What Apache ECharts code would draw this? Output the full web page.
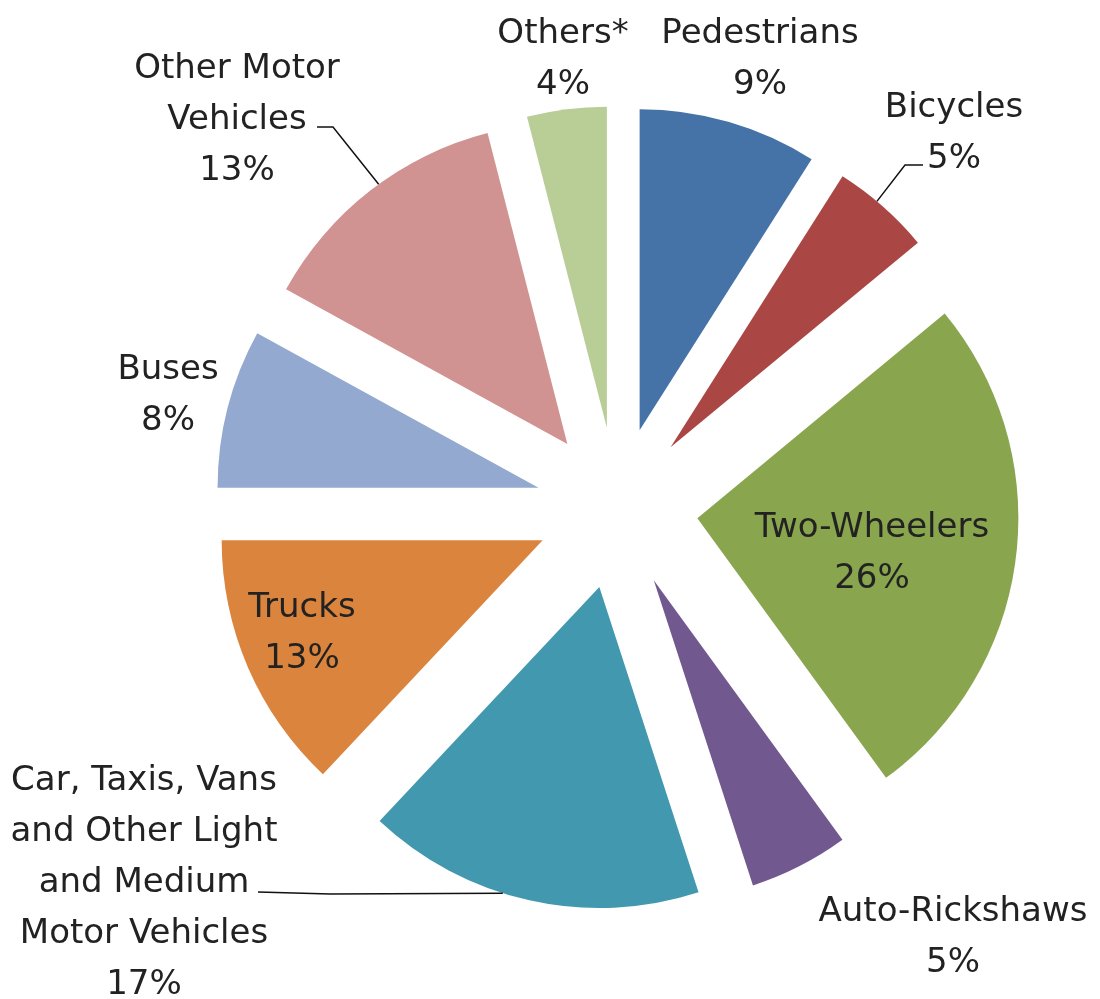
<!DOCTYPE html>
<html>
<head>
<meta charset="utf-8">
<script src="https://cdn.jsdelivr.net/npm/echarts@6/dist/echarts.min.js"></script>
<style>
  html, body { margin: 0; background: #fff; }
  #pie { width: 1100px; height: 999px; }
</style>
</head>
<body>
<div id="pie"></div>
<script>
// slices, clockwise from 12 o'clock
const categories = ['Pedestrians', 'Bicycles', 'Two-Wheelers', 'Auto-Rickshaws',
  'Car, Taxis, Vans and Other Light and Medium Motor Vehicles', 'Trucks', 'Buses',
  'Other Motor Vehicles', 'Others*'];
const shares = [9, 5, 26, 5, 17, 13, 8, 13, 4];
// how the names are wrapped in the labels
const labelNames = ['Pedestrians', 'Bicycles', 'Two-Wheelers', 'Auto-Rickshaws',
  'Car, Taxis, Vans\nand Other Light\nand Medium\nMotor Vehicles', 'Trucks', 'Buses',
  'Other Motor\nVehicles', 'Others*'];

const colors = ['#4572A7', '#AA4643', '#89A54E', '#71588F', '#4198AF',
  '#DB843D', '#93A9CF', '#D19392', '#B9CD96'];

// pie geometry
const cx = 617, cy = 508, R = 321, OFFSET = 81;
// label block centres (px)
const labelPos = [[760, 60], [954, 134], [872, 554], [953, 938], [144, 883],
  [302, 634], [168, 396], [237, 120], [563, 60]];

const total = shares.reduce((a, b) => a + b, 0);
// point on the outer arc of an exploded slice; angle clockwise from 12 o'clock
function arcPoint(idx, angle) {
  const before = shares.slice(0, idx).reduce((a, b) => a + b, 0);
  const mid = (before + shares[idx] / 2) / total * 2 * Math.PI;
  const a = angle * Math.PI / 180;
  return [cx + OFFSET * Math.sin(mid) + R * Math.sin(a),
          cy - OFFSET * Math.cos(mid) - R * Math.cos(a)];
}

const chart = echarts.init(document.getElementById('pie'));

const data = categories.map((name, i) => ({
  name: name,
  value: shares[i],
  selected: true,
  itemStyle: { color: colors[i] }
}));

const texts = categories.map((name, i) => ({
  type: 'text',
  x: labelPos[i][0],
  y: labelPos[i][1],
  z: 10,
  style: {
    text: labelNames[i] + '\n' + shares[i] + '%',
    fontFamily: 'DejaVu Sans',
    fontSize: 34,
    lineHeight: 51,
    fill: '#222',
    align: 'center',
    verticalAlign: 'middle'
  }
}));

// leader lines
const leaders = [
  [[317, 127], [333, 127], arcPoint(7, 324)],
  [[923, 165], [905, 165], arcPoint(1, 40)],
  [[258, 892], [330, 894], arcPoint(4, 197.5)]
].map(pts => ({
  type: 'polyline',
  z: 10,
  shape: { points: pts },
  style: { stroke: '#111', lineWidth: 1.5, fill: null }
}));

chart.setOption({
  animation: false,
  series: [{
    type: 'pie',
    center: [cx, cy],
    radius: [0, R],
    startAngle: 90,
    clockwise: true,
    selectedMode: 'multiple',
    selectedOffset: OFFSET,
    emphasis: { scale: false },
    label: { show: false },
    labelLine: { show: false },
    data: data
  }],
  graphic: texts.concat(leaders)
});
</script>
</body>
</html>
